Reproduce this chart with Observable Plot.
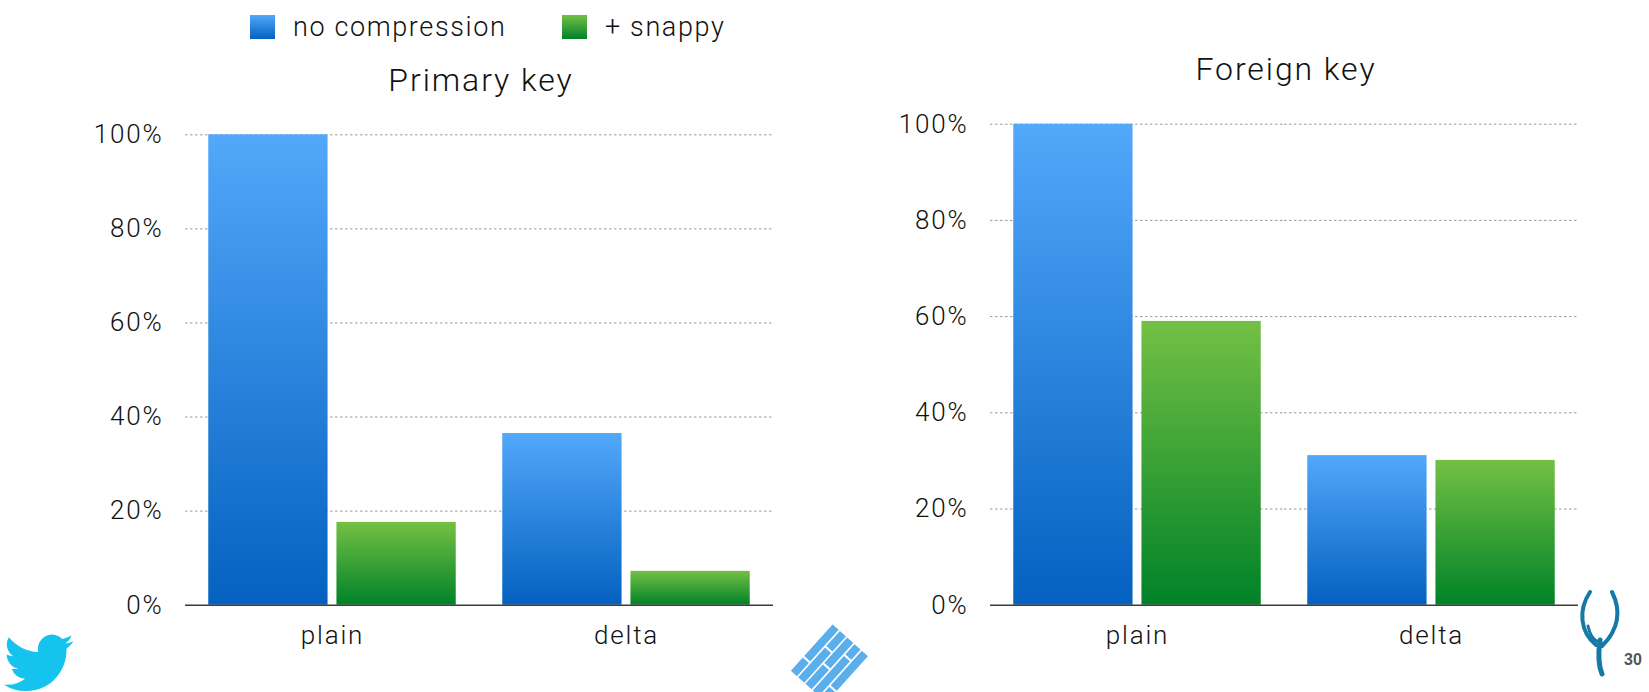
<!DOCTYPE html>
<html>
<head>
<meta charset="utf-8">
<script src="https://cdn.jsdelivr.net/npm/d3@7"></script>
<script src="https://cdn.jsdelivr.net/npm/@observablehq/plot@0.6"></script>
<style>
  html, body { margin: 0; padding: 0; background: #fff; }
  #page { position: relative; width: 1649px; height: 692px; overflow: hidden; font-family: Roboto, "Liberation Sans", sans-serif; font-weight: 300; color: #111; }
  .abs { position: absolute; }
  .title { position: absolute; font-size: 32px; line-height: 1; letter-spacing: 0.06em; transform: translateX(-50%); white-space: nowrap; }
  .legend-item { position: absolute; display: flex; align-items: center; font-size: 27px; letter-spacing: 0.06em; white-space: nowrap; }
  .sw { width: 25px; height: 24px; margin-right: 18px; }
  #pagenum { position: absolute; left: 1624px; top: 651px; font: bold 16px "Liberation Sans", Arial, sans-serif; color: #555; }
  #logos { position: absolute; left: 0; top: 0; }
</style>
</head>
<body>
<svg width="0" height="0" style="position:absolute">
  <defs>
    <linearGradient id="gBlue" x1="0" y1="0" x2="0" y2="1">
      <stop offset="0" stop-color="#52A8FA"/>
      <stop offset="1" stop-color="#0461C0"/>
    </linearGradient>
    <linearGradient id="gGreen" x1="0" y1="0" x2="0" y2="1">
      <stop offset="0" stop-color="#74C044"/>
      <stop offset="1" stop-color="#008228"/>
    </linearGradient>
  </defs>
</svg>
<div id="page">
  <svg id="logos" width="1649" height="692">
    <!-- decorative logos -->
    <g transform="translate(4,628) scale(2.9)">
      <path fill="#14C3EE" d="M23.953 4.57a10 10 0 01-2.825.775 4.958 4.958 0 002.163-2.723c-.951.555-2.005.959-3.127 1.184a4.92 4.92 0 00-8.384 4.482C7.69 8.095 4.067 6.13 1.64 3.162a4.822 4.822 0 00-.666 2.475c0 1.71.87 3.213 2.188 4.096a4.904 4.904 0 01-2.228-.616v.06a4.923 4.923 0 003.946 4.827 4.996 4.996 0 01-2.212.085 4.936 4.936 0 004.604 3.417 9.867 9.867 0 01-6.102 2.105c-.39 0-.779-.023-1.17-.067a13.995 13.995 0 007.557 2.209c9.053 0 13.998-7.496 13.998-13.985 0-.21 0-.42-.015-.63A9.935 9.935 0 0024 4.59z"/>
    </g>
    <g transform="translate(830,664) rotate(-48) scale(0.82)" fill="#5AAEEC">
      <rect x="-38" y="-30" width="76" height="10"/>
      <rect x="-38" y="-18" width="76" height="10"/>
      <rect x="-38" y="-6" width="76" height="10"/>
      <rect x="-38" y="6" width="76" height="10"/>
      <rect x="-38" y="18" width="76" height="10"/>
      <g stroke="#fff" stroke-width="2.5">
        <line x1="-15" y1="-31" x2="-15" y2="-19"/>
        <line x1="12" y1="-19" x2="12" y2="-7"/>
        <line x1="-5" y1="-7" x2="-5" y2="5"/>
        <line x1="20" y1="5" x2="20" y2="17"/>
        <line x1="-20" y1="17" x2="-20" y2="29"/>
      </g>
    </g>
    <g fill="none" stroke="#1479A6" stroke-linecap="round">
      <path d="M1590 592 C1578 610 1580 632 1596 645" stroke-width="4"/>
      <path d="M1612 592 C1622 612 1618 630 1602 646" stroke-width="4"/>
      <path d="M1600 640 C1598 655 1598 665 1602 674" stroke-width="5"/>
      <path d="M1588 626 C1590 636 1594 640 1598 642" stroke-width="3"/>
      <path d="M1614 628 C1612 638 1606 642 1603 644" stroke-width="3"/>
    </g>
  </svg>
  <div class="legend-item" style="left:250px; top:11px;"><div class="sw" style="background:linear-gradient(#52A8FA,#0461C0)"></div><span>no compression</span></div>
  <div class="legend-item" style="left:562px; top:11px;"><div class="sw" style="background:linear-gradient(#74C044,#008228)"></div><span>+ snappy</span></div>
  <div class="title" id="t1" style="left:481px; top:64px;"></div>
  <div class="title" id="t2" style="left:1286px; top:53px;"></div>
  <div class="abs" id="c1" style="left:0px; top:0px;"></div>
  <div class="abs" id="c2" style="left:805px; top:0px;"></div>
  <div id="pagenum">30</div>
</div>
<script>
// ---- data ----
const categories = ["plain", "delta"];
const series = ["no compression", "+ snappy"];
const titles = ["Primary key", "Foreign key"];
const primaryNoCompression = [100, 36.5];
const primarySnappy = [17.6, 7.2];
const foreignNoCompression = [100, 31.1];
const foreignSnappy = [59.0, 30.1];
const yTicks = [0, 20, 40, 60, 80, 100];
const yTickLabels = ["0%", "20%", "40%", "60%", "80%", "100%"];

function rowsFor(noComp, snappy) {
  const rows = [];
  categories.forEach((c, i) => {
    rows.push({category: c, series: series[0], value: noComp[i]});
    rows.push({category: c, series: series[1], value: snappy[i]});
  });
  return rows;
}

function chart(rows, marginTop, marginRight) {
  return Plot.plot({
    width: 773 + marginRight,
    height: 692,
    marginLeft: 184,
    marginRight: marginRight,
    marginTop: marginTop,
    marginBottom: 87.3,
    style: {fontFamily: "Roboto, 'Liberation Sans', sans-serif", fontSize: "26px", fontWeight: 300, letterSpacing: "0.07em", color: "#111", background: "transparent", overflow: "visible"},
    facet: {data: rows, x: "category"},
    fx: {domain: categories, padding: 0, axis: "bottom", label: null, tickSize: 0, tickPadding: 20},
    x: {domain: series, paddingInner: 0.0693, paddingOuter: 0.1815, round: false, axis: null},
    y: {domain: [0, 100], ticks: yTicks, tickFormat: d => yTickLabels[yTicks.indexOf(d)], tickSize: 0, tickPadding: 22, label: null},
    color: {type: "ordinal", domain: series, range: ["url(#gBlue)", "url(#gGreen)"]},
    marks: [
      Plot.ruleY(yTicks.slice(1), {stroke: "#9a9a9a", strokeWidth: 1, strokeDasharray: "2.5,2.5"}),
      Plot.barY(rows, {x: "series", y: "value", fill: "series"}),
      Plot.ruleY([0], {stroke: "#3c3c3c", strokeWidth: 1.6})
    ]
  });
}

document.getElementById("t1").textContent = titles[0];
document.getElementById("t2").textContent = titles[1];
document.getElementById("c1").appendChild(chart(rowsFor(primaryNoCompression, primarySnappy), 134.3, 47));
document.getElementById("c2").appendChild(chart(rowsFor(foreignNoCompression, foreignSnappy), 123.7, 71));
</script>
</body>
</html>
